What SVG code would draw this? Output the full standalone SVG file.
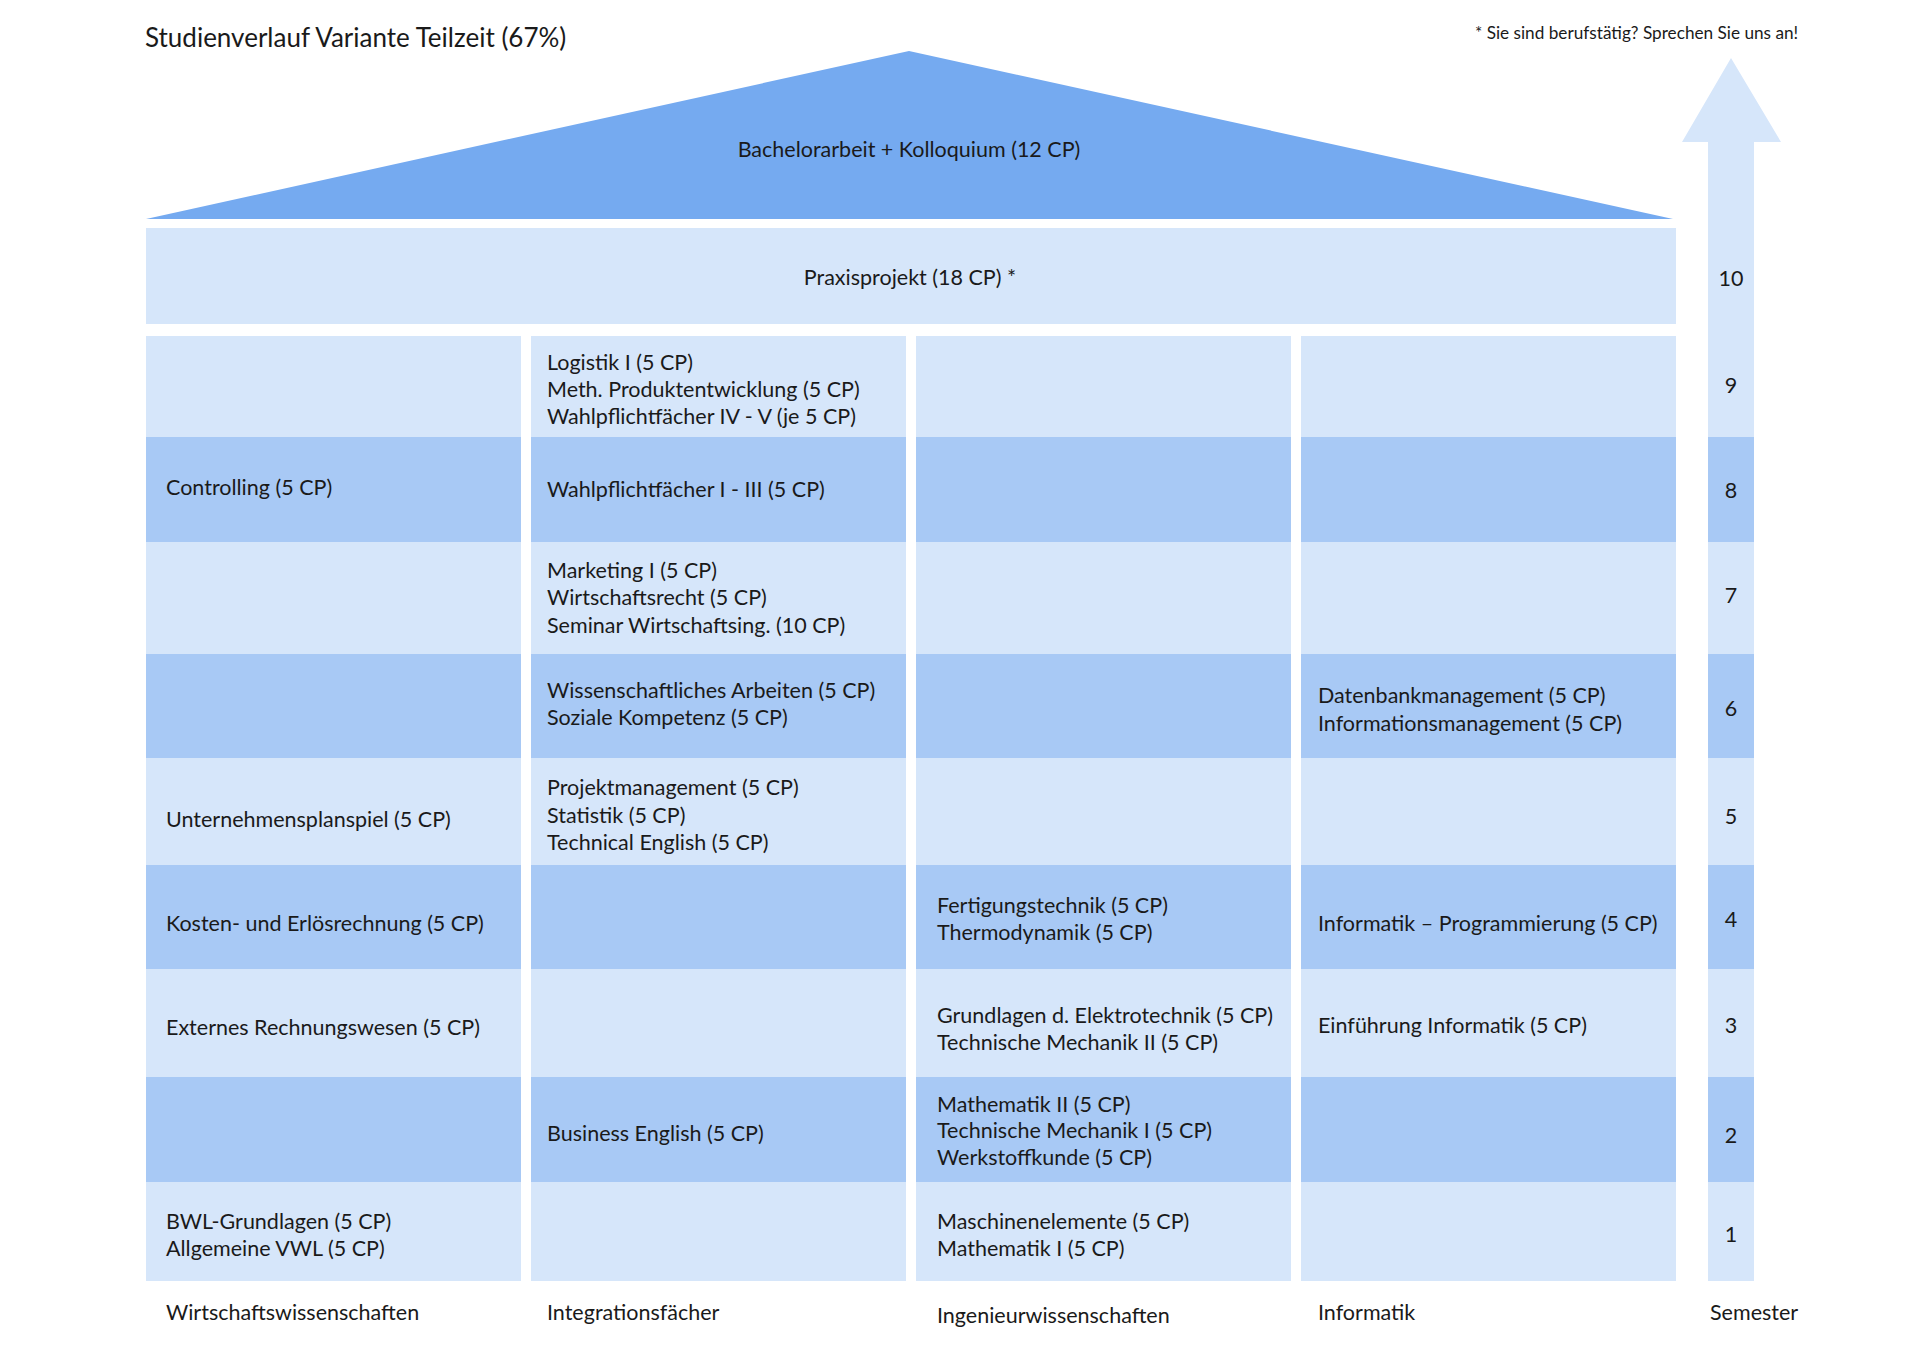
<svg xmlns="http://www.w3.org/2000/svg" width="1919" height="1357" viewBox="0 0 1919 1357">
<style>
.lt{fill:#d6e6fa}
.dk{fill:#a8c9f5}
.roof{fill:#75aaf0}
text{font-family:Lato,"Open Sans","Liberation Sans",sans-serif;fill:#1a1a1a}
.t{font-size:21.5px}
.c{text-anchor:middle}
.title{font-size:26px}
.note{font-size:17.2px}
</style>
<rect width="1919" height="1357" fill="#ffffff"/>
<g id="title"><text class="title" x="145" y="47">Studienverlauf Variante Teilzeit (67%)</text></g>
<g id="note"><text class="note" x="1475" y="39">* Sie sind berufstätig? Sprechen Sie uns an!</text></g>

<g id="bachelorarbeit">
<polygon class="roof" points="146,219 909,51 1673,219"/>
<text class="t c" x="909" y="157">Bachelorarbeit + Kolloquium (12 CP)</text>
</g>
<g id="praxisprojekt">
<rect class="lt" x="146" y="228" width="1530" height="96"/>
<text class="t c" x="910" y="285">Praxisprojekt (18 CP) *</text>
</g>

<g id="semester-arrow">
<polygon class="lt" points="1731,58 1781,142 1754,142 1754,1281 1708,1281 1708,142 1682,142"/>
<rect class="dk" x="1708" y="437" width="46" height="105"/>
<rect class="dk" x="1708" y="654" width="46" height="104"/>
<rect class="dk" x="1708" y="865" width="46" height="104"/>
<rect class="dk" x="1708" y="1077" width="46" height="105"/>
<text class="t c" x="1731" y="286">10</text>
<text class="t c" x="1731" y="393">9</text>
<text class="t c" x="1731" y="498">8</text>
<text class="t c" x="1731" y="603">7</text>
<text class="t c" x="1731" y="716">6</text>
<text class="t c" x="1731" y="824">5</text>
<text class="t c" x="1731" y="927">4</text>
<text class="t c" x="1731" y="1033">3</text>
<text class="t c" x="1731" y="1143">2</text>
<text class="t c" x="1731" y="1242">1</text>
</g>

<!-- Column 1: Wirtschaftswissenschaften -->
<g id="c1-s9"><rect class="lt" x="146" y="336" width="375" height="101"/></g>
<g id="c1-s8"><rect class="dk" x="146" y="437" width="375" height="105"/><text class="t" x="166" y="495">Controlling (5 CP)</text></g>
<g id="c1-s7"><rect class="lt" x="146" y="542" width="375" height="112"/></g>
<g id="c1-s6"><rect class="dk" x="146" y="654" width="375" height="104"/></g>
<g id="c1-s5"><rect class="lt" x="146" y="758" width="375" height="107"/><text class="t" x="166" y="827">Unternehmensplanspiel (5 CP)</text></g>
<g id="c1-s4"><rect class="dk" x="146" y="865" width="375" height="104"/><text class="t" x="166" y="931">Kosten- und Erlösrechnung (5 CP)</text></g>
<g id="c1-s3"><rect class="lt" x="146" y="969" width="375" height="108"/><text class="t" x="166" y="1035">Externes Rechnungswesen (5 CP)</text></g>
<g id="c1-s2"><rect class="dk" x="146" y="1077" width="375" height="105"/></g>
<g id="c1-s1"><rect class="lt" x="146" y="1182" width="375" height="99"/><text class="t" x="166" y="1229">BWL-Grundlagen (5 CP)</text><text class="t" x="166" y="1256">Allgemeine VWL (5 CP)</text></g>

<!-- Column 2: Integrationsfächer -->
<g id="c2-s9"><rect class="lt" x="531" y="336" width="375" height="101"/><text class="t" x="547" y="370">Logistik I (5 CP)</text><text class="t" x="547" y="397">Meth. Produktentwicklung (5 CP)</text><text class="t" x="547" y="424">Wahlpflichtfächer IV - V (je 5 CP)</text></g>
<g id="c2-s8"><rect class="dk" x="531" y="437" width="375" height="105"/><text class="t" x="547" y="497">Wahlpflichtfächer I - III (5 CP)</text></g>
<g id="c2-s7"><rect class="lt" x="531" y="542" width="375" height="112"/><text class="t" x="547" y="578">Marketing I (5 CP)</text><text class="t" x="547" y="605">Wirtschaftsrecht (5 CP)</text><text class="t" x="547" y="633">Seminar Wirtschaftsing. (10 CP)</text></g>
<g id="c2-s6"><rect class="dk" x="531" y="654" width="375" height="104"/><text class="t" x="547" y="698">Wissenschaftliches Arbeiten (5 CP)</text><text class="t" x="547" y="725">Soziale Kompetenz (5 CP)</text></g>
<g id="c2-s5"><rect class="lt" x="531" y="758" width="375" height="107"/><text class="t" x="547" y="795">Projektmanagement (5 CP)</text><text class="t" x="547" y="823">Statistik (5 CP)</text><text class="t" x="547" y="850">Technical English (5 CP)</text></g>
<g id="c2-s4"><rect class="dk" x="531" y="865" width="375" height="104"/></g>
<g id="c2-s3"><rect class="lt" x="531" y="969" width="375" height="108"/></g>
<g id="c2-s2"><rect class="dk" x="531" y="1077" width="375" height="105"/><text class="t" x="547" y="1141">Business English (5 CP)</text></g>
<g id="c2-s1"><rect class="lt" x="531" y="1182" width="375" height="99"/></g>

<!-- Column 3: Ingenieurwissenschaften -->
<g id="c3-s9"><rect class="lt" x="916" y="336" width="375" height="101"/></g>
<g id="c3-s8"><rect class="dk" x="916" y="437" width="375" height="105"/></g>
<g id="c3-s7"><rect class="lt" x="916" y="542" width="375" height="112"/></g>
<g id="c3-s6"><rect class="dk" x="916" y="654" width="375" height="104"/></g>
<g id="c3-s5"><rect class="lt" x="916" y="758" width="375" height="107"/></g>
<g id="c3-s4"><rect class="dk" x="916" y="865" width="375" height="104"/><text class="t" x="937" y="913">Fertigungstechnik (5 CP)</text><text class="t" x="937" y="940">Thermodynamik (5 CP)</text></g>
<g id="c3-s3"><rect class="lt" x="916" y="969" width="375" height="108"/><text class="t" x="937" y="1023">Grundlagen d. Elektrotechnik (5 CP)</text><text class="t" x="937" y="1050">Technische Mechanik II (5 CP)</text></g>
<g id="c3-s2"><rect class="dk" x="916" y="1077" width="375" height="105"/><text class="t" x="937" y="1112">Mathematik II (5 CP)</text><text class="t" x="937" y="1138">Technische Mechanik I (5 CP)</text><text class="t" x="937" y="1165">Werkstoffkunde (5 CP)</text></g>
<g id="c3-s1"><rect class="lt" x="916" y="1182" width="375" height="99"/><text class="t" x="937" y="1229">Maschinenelemente (5 CP)</text><text class="t" x="937" y="1256">Mathematik I (5 CP)</text></g>

<!-- Column 4: Informatik -->
<g id="c4-s9"><rect class="lt" x="1301" y="336" width="375" height="101"/></g>
<g id="c4-s8"><rect class="dk" x="1301" y="437" width="375" height="105"/></g>
<g id="c4-s7"><rect class="lt" x="1301" y="542" width="375" height="112"/></g>
<g id="c4-s6"><rect class="dk" x="1301" y="654" width="375" height="104"/><text class="t" x="1318" y="703">Datenbankmanagement (5 CP)</text><text class="t" x="1318" y="731">Informationsmanagement (5 CP)</text></g>
<g id="c4-s5"><rect class="lt" x="1301" y="758" width="375" height="107"/></g>
<g id="c4-s4"><rect class="dk" x="1301" y="865" width="375" height="104"/><text class="t" x="1318" y="931">Informatik – Programmierung (5 CP)</text></g>
<g id="c4-s3"><rect class="lt" x="1301" y="969" width="375" height="108"/><text class="t" x="1318" y="1033">Einführung Informatik (5 CP)</text></g>
<g id="c4-s2"><rect class="dk" x="1301" y="1077" width="375" height="105"/></g>
<g id="c4-s1"><rect class="lt" x="1301" y="1182" width="375" height="99"/></g>

<g id="column-labels">
<text class="t" x="166" y="1320">Wirtschaftswissenschaften</text>
<text class="t" x="547" y="1320">Integrationsfächer</text>
<text class="t" x="937" y="1323">Ingenieurwissenschaften</text>
<text class="t" x="1318" y="1320">Informatik</text>
<text class="t" x="1710" y="1320">Semester</text>
</g>
<g id="connectors"></g>
</svg>
